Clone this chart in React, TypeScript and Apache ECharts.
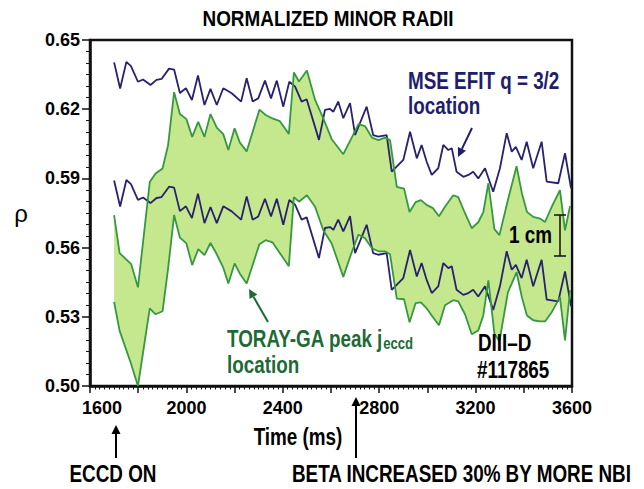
import React, { useEffect, useRef } from "react";
import * as echarts from "echarts";

// MSE EFIT q = 3/2 location (two curves)
const BLUE_T = [1700,1725,1751,1770,1799,1820,1851,1876,1897,1928,1949,1973,1998,2023,2048,2075,2100,2126,2153,2188,2227,2250,2275,2298,2326,2351,2375,2402,2427,2451,2478,2499,2550,2575,2596,2610,2630,2651,2679,2700,2748,2775,2796,2831,2852,2900,2928,2956,2976,2997,3018,3045,3066,3087,3101,3121,3149,3170,3190,3211,3239,3273,3301,3329,3350,3367,3391,3412,3439,3474,3495,3543,3571,3596];
const BLUE_UPPER = [
  0.6403,0.6290,0.6405,0.6387,0.6319,0.6329,0.6305,0.6327,0.6331,0.6376,
  0.6372,0.6270,0.6291,0.6240,0.6346,0.6218,0.6288,0.6218,0.6291,0.6269,
  0.6233,0.6334,0.6233,0.6247,0.6324,0.6247,0.6324,0.6211,0.6319,0.6298,
  0.6233,0.6243,0.6067,0.6197,0.6201,0.6189,0.6233,0.6161,0.6226,0.6088,
  0.6211,0.6088,0.6081,0.6088,0.5929,0.5980,0.6102,0.5987,0.6045,0.5972,
  0.5915,0.5944,0.6045,0.6023,0.6031,0.5929,0.5907,0.5915,0.5929,0.5900,
  0.5944,0.5842,0.5944,0.6096,0.6016,0.6037,0.5980,0.6059,0.5944,0.6059,
  0.5886,0.5879,0.6009,0.5857];
const BLUE_LOWER = [
  0.5891,0.5778,0.5893,0.5875,0.5807,0.5817,0.5793,0.5815,0.5819,0.5864,
  0.5860,0.5758,0.5779,0.5728,0.5834,0.5706,0.5776,0.5706,0.5779,0.5757,
  0.5721,0.5822,0.5721,0.5735,0.5812,0.5735,0.5812,0.5699,0.5807,0.5786,
  0.5721,0.5731,0.5555,0.5685,0.5689,0.5677,0.5721,0.5670,0.5736,0.5576,
  0.5699,0.5576,0.5569,0.5576,0.5417,0.5468,0.5590,0.5475,0.5533,0.5460,
  0.5403,0.5432,0.5533,0.5511,0.5519,0.5417,0.5395,0.5403,0.5417,0.5388,
  0.5432,0.5330,0.5432,0.5584,0.5504,0.5525,0.5468,0.5547,0.5432,0.5547,
  0.5374,0.5367,0.5497,0.5345];

// TORAY-GA peak j_eccd location band
const GREEN_T = [
  1700,1723,1771,1799,1848,1872,1901,1924,1949,1973,
  2000,2024,2049,2075,2100,2126,2153,2174,2200,2222,
  2250,2303,2329,2357,2388,2425,2446,2467,2500,2534,
  2568,2603,2651,2683,2714,2741,2770,2797,2824,2845,
  2873,2903,2926,2951,2973,2998,3023,3048,3073,3107,
  3128,3156,3184,3211,3232,3253,3278,3299,3334,3370,
  3392,3413,3439,3467,3488,3516,3550,3571,3592];
const GREEN_UPPER = [
  0.5741,0.5576,0.5528,0.5428,0.5884,0.5921,0.5943,0.6044,0.6274,0.6179,
  0.6157,0.6080,0.6145,0.6080,0.6179,0.6120,0.6092,0.6023,0.6117,0.6055,
  0.6017,0.6198,0.6175,0.6160,0.6148,0.6093,0.6359,0.6320,0.6368,0.6240,
  0.6160,0.6070,0.6005,0.6070,0.6135,0.6127,0.6077,0.6066,0.6077,0.6066,
  0.5863,0.5856,0.5754,0.5797,0.5806,0.5784,0.5771,0.5736,0.5777,0.5827,
  0.5819,0.5749,0.5684,0.5710,0.5754,0.5879,0.5680,0.5654,0.5806,0.5953,
  0.5836,0.5755,0.5733,0.5726,0.5711,0.5777,0.5849,0.5675,0.5780];
const GREEN_LOWER = [
  0.5364,0.5239,0.5094,0.5000,0.5337,0.5311,0.5324,0.5509,0.5741,0.5643,
  0.5618,0.5524,0.5593,0.5567,0.5620,0.5571,0.5513,0.5444,0.5531,0.5487,
  0.5444,0.5615,0.5632,0.5623,0.5576,0.5519,0.5819,0.5799,0.5827,0.5777,
  0.5675,0.5618,0.5473,0.5571,0.5656,0.5641,0.5597,0.5584,0.5584,0.5571,
  0.5379,0.5376,0.5276,0.5359,0.5363,0.5335,0.5298,0.5263,0.5350,0.5372,
  0.5367,0.5311,0.5224,0.5241,0.5306,0.5458,0.5227,0.5194,0.5406,0.5493,
  0.5385,0.5306,0.5285,0.5280,0.5280,0.5320,0.5385,0.5198,0.5415];

const X_MIN = 1600, X_MAX = 3600, X_STEP = 200, X_LABEL_STEP = 400;
const Y_MIN = 0.5, Y_MAX = 0.65, Y_STEP = 0.03;

const FONT = "'Liberation Sans', Arial, Helvetica, sans-serif";
const NARROW = 0.82;
const BLUE = "#27216f";
const GREEN_LINE = "#36983f";
const GREEN_FILL = "#c5e78e";
const GREEN_TEXT = "#1e6a34";
const NAVY_TEXT = "#221d6b";

function arrow(x1: number, y1: number, x2: number, y2: number, color: string, head = 9, w = 4.5) {
  const dx = x2 - x1, dy = y2 - y1;
  const len = Math.sqrt(dx * dx + dy * dy);
  const ux = dx / len, uy = dy / len;
  const bx = x2 - ux * head, by = y2 - uy * head;
  return [
    { type: "line", shape: { x1, y1, x2: bx, y2: by }, style: { stroke: color, lineWidth: 2 } },
    { type: "polygon", shape: { points: [[x2, y2], [bx - uy * w, by + ux * w], [bx + uy * w, by - ux * w]] }, style: { fill: color } },
  ];
}

export default function App() {
  const ref = useRef<HTMLDivElement>(null);
  useEffect(() => {
    if (!ref.current) return;
    const chart = echarts.init(ref.current, null, { renderer: "svg" });
    const txt = (x: number, y: number, text: string, size: number, color = "#000", align = "left", sx = NARROW) => ({
      type: "text",
      x, y, scaleX: sx,
      style: { text, fontSize: size, fontWeight: "bold", fontFamily: FONT, fill: color, align, verticalAlign: "middle" },
    });
    const elements: any[] = [
      txt(328, 18, "NORMALIZED MINOR RADII", 22, "#000", "center", 0.86),
      txt(408, 81, "MSE EFIT q = 3/2", 23, NAVY_TEXT),
      txt(408, 106, "location", 23, NAVY_TEXT),
      ...arrow(472, 128, 458, 157, NAVY_TEXT),
      {
        type: "text", x: 227, y: 339, scaleX: NARROW,
        style: {
          text: "{a|TORAY-GA peak j}{b|eccd}",
          verticalAlign: "middle",
          rich: {
            a: { fontSize: 23, fontWeight: "bold", fontFamily: FONT, fill: GREEN_TEXT, color: GREEN_TEXT },
            b: { fontSize: 16, fontWeight: "bold", fontFamily: FONT, fill: GREEN_TEXT, color: GREEN_TEXT, padding: [9, 0, 0, 0] },
          },
        },
      },
      txt(227, 365, "location", 23, GREEN_TEXT),
      ...arrow(268, 322, 249, 289, GREEN_TEXT),
      txt(509, 235, "1 cm", 23),
      { type: "line", shape: { x1: 560, y1: 215, x2: 560, y2: 256 }, style: { stroke: "#111", lineWidth: 1.5 } },
      { type: "line", shape: { x1: 554, y1: 215, x2: 566, y2: 215 }, style: { stroke: "#111", lineWidth: 1.5 } },
      { type: "line", shape: { x1: 554, y1: 256, x2: 566, y2: 256 }, style: { stroke: "#111", lineWidth: 1.5 } },
      txt(478, 343, "DIII–D", 23),
      txt(477, 370, "#117865", 23),
      txt(298, 437, "Time (ms)", 23, "#000", "center"),
      ...arrow(116, 458, 116, 425, "#000"),
      txt(113, 474, "ECCD ON", 23, "#000", "center"),
      ...arrow(356, 458, 356, 397, "#000"),
      txt(292, 474, "BETA INCREASED 30% BY MORE NBI", 23, "#000", "left"),
    ];
    chart.setOption({
      animation: false,
      backgroundColor: "#ffffff",
      grid: { left: 90, right: 72, top: 40, bottom: 103, show: true, borderColor: "#111", borderWidth: 2.5, backgroundColor: "transparent" },
      xAxis: {
        type: "value", min: X_MIN, max: X_MAX, interval: X_STEP,
        axisLine: { show: true, lineStyle: { color: "#111", width: 2.5 } },
        axisTick: { show: true, inside: false, length: 7, lineStyle: { color: "#111", width: 1.5 } },
        minorTick: { show: true, splitNumber: 10, length: 3.5, lineStyle: { color: "#111", width: 1 } },
        splitLine: { show: false },
        axisLabel: {
          margin: 13, fontSize: 18, fontWeight: "bold", fontFamily: FONT, color: "#000",
          formatter: (v: number) => (v % X_LABEL_STEP === 0 ? (v === X_MIN ? "{m|" + v + "}" : String(v)) : ""),
          rich: { m: { fontSize: 18, fontWeight: "bold", fontFamily: FONT, color: "#000", padding: [0, 0, 0, 24] } },
        },
      },
      yAxis: {
        type: "value", min: Y_MIN, max: Y_MAX, interval: Y_STEP,
        name: "ρ", nameLocation: "middle", nameRotate: 0, nameGap: 62,
        nameTextStyle: { fontSize: 24, fontFamily: FONT, color: "#000" },
        axisLine: { show: true, lineStyle: { color: "#111", width: 2.5 } },
        axisTick: { show: true, inside: false, length: 8, lineStyle: { color: "#111", width: 1.5 } },
        minorTick: { show: true, splitNumber: 6, length: 4, lineStyle: { color: "#111", width: 1 } },
        splitLine: { show: false },
        axisLabel: {
          margin: 10, fontSize: 18, fontWeight: "bold", fontFamily: FONT, color: "#000",
          formatter: (v: number) => v.toFixed(2),
        },
      },
      series: [
        {
          type: "custom", silent: true, clip: true,
          data: [[GREEN_T[0], GREEN_LOWER[0]]],
          renderItem: (params: any, api: any) => {
            const pts: number[][] = [];
            for (let i = 0; i < GREEN_T.length; i++) pts.push(api.coord([GREEN_T[i], GREEN_UPPER[i]]));
            for (let i = GREEN_T.length - 1; i >= 0; i--) pts.push(api.coord([GREEN_T[i], GREEN_LOWER[i]]));
            return { type: "polygon", shape: { points: pts }, style: { fill: GREEN_FILL, stroke: "none" } };
          },
        },
        {
          type: "line", symbol: "none", data: BLUE_T.map((t, i) => [t, BLUE_UPPER[i]]),
          lineStyle: { color: BLUE, width: 1.8 },
        },
        {
          type: "line", symbol: "none", data: BLUE_T.map((t, i) => [t, BLUE_LOWER[i]]),
          lineStyle: { color: BLUE, width: 1.8 },
        },
        {
          type: "line", symbol: "none", data: GREEN_T.map((t, i) => [t, GREEN_UPPER[i]]),
          lineStyle: { color: GREEN_LINE, width: 1.8 },
        },
        {
          type: "line", symbol: "none", data: GREEN_T.map((t, i) => [t, GREEN_LOWER[i]]),
          lineStyle: { color: GREEN_LINE, width: 1.8 },
        },
      ],
      graphic: elements.map((e) => ({ ...e, z: 100 })),
    });
    return () => chart.dispose();
  }, []);
  return <div ref={ref} style={{ position: "fixed", left: 0, top: 0, width: 644, height: 489, background: "#fff" }} />;
}
